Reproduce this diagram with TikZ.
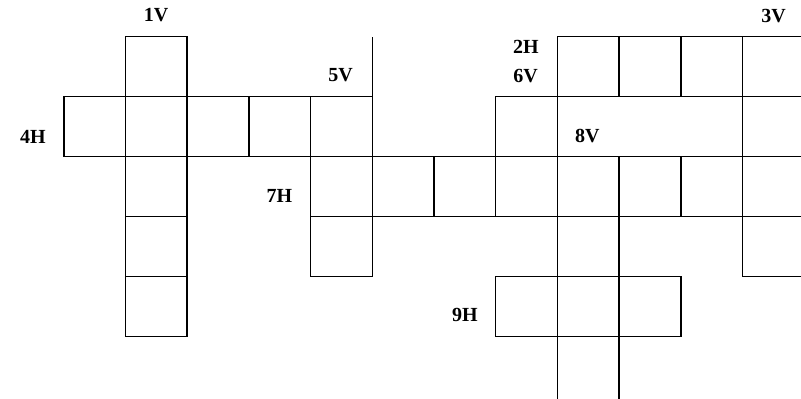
\documentclass[tikz,border=0pt]{standalone}
\usepackage{fontspec}
\setmainfont{Liberation Serif}
\begin{document}
\begin{tikzpicture}[x=0.75pt,y=-0.75pt,
  gridline/.style={draw=black,line width=1.1pt},
  cell/.style={gridline,minimum width=46.275pt,minimum height=45pt,inner sep=0pt,outer sep=0pt,anchor=north west},
  lbl/.style={font=\fontsize{15}{18}\selectfont\bfseries,inner sep=0pt,text=black}]
\useasboundingbox (0,0) rectangle (801,399);
% cells
\foreach \c/\r in {1/0,8/0,9/0,10/0,11/0,
                   0/1,1/1,2/1,3/1,4/1,7/1,11/1,
                   1/2,4/2,5/2,6/2,7/2,8/2,9/2,10/2,11/2,
                   1/3,4/3,8/3,11/3,
                   1/4,7/4,8/4,9/4}
  \node[cell] (cell-\c-\r) at ({63.8+61.7*\c},{36.7+60*\r}) {};
% open cell at the bottom of 8V
\coordinate (open-l) at ([yshift=-60pt]cell-8-4.south west);
\coordinate (open-r) at ([yshift=-60pt]cell-8-4.south east);
\draw[gridline] (cell-8-4.south west) -- (open-l);
\draw[gridline] (cell-8-4.south east) -- (open-r);
% stray line above 5V
\coordinate (stray) at ([yshift=45pt]cell-4-1.north east);
\draw[gridline] (cell-4-1.north east) -- (stray);
% labels
\node[lbl] (l1V) at (156,15.5) {1V};
\node[lbl] (l4H) at (33,136.5) {4H};
\node[lbl] (l5V) at (340.5,75) {5V};
\node[lbl] (l7H) at (279.5,196) {7H};
\node[lbl] (l2H) at (526,46.7) {2H};
\node[lbl] (l6V) at (525.5,76.3) {6V};
\node[lbl] (l3V) at (773.5,15.8) {3V};
\node[lbl] (l8V) at (587.3,136) {8V};
\node[lbl] (l9H) at (465,315) {9H};
\end{tikzpicture}
\end{document}
